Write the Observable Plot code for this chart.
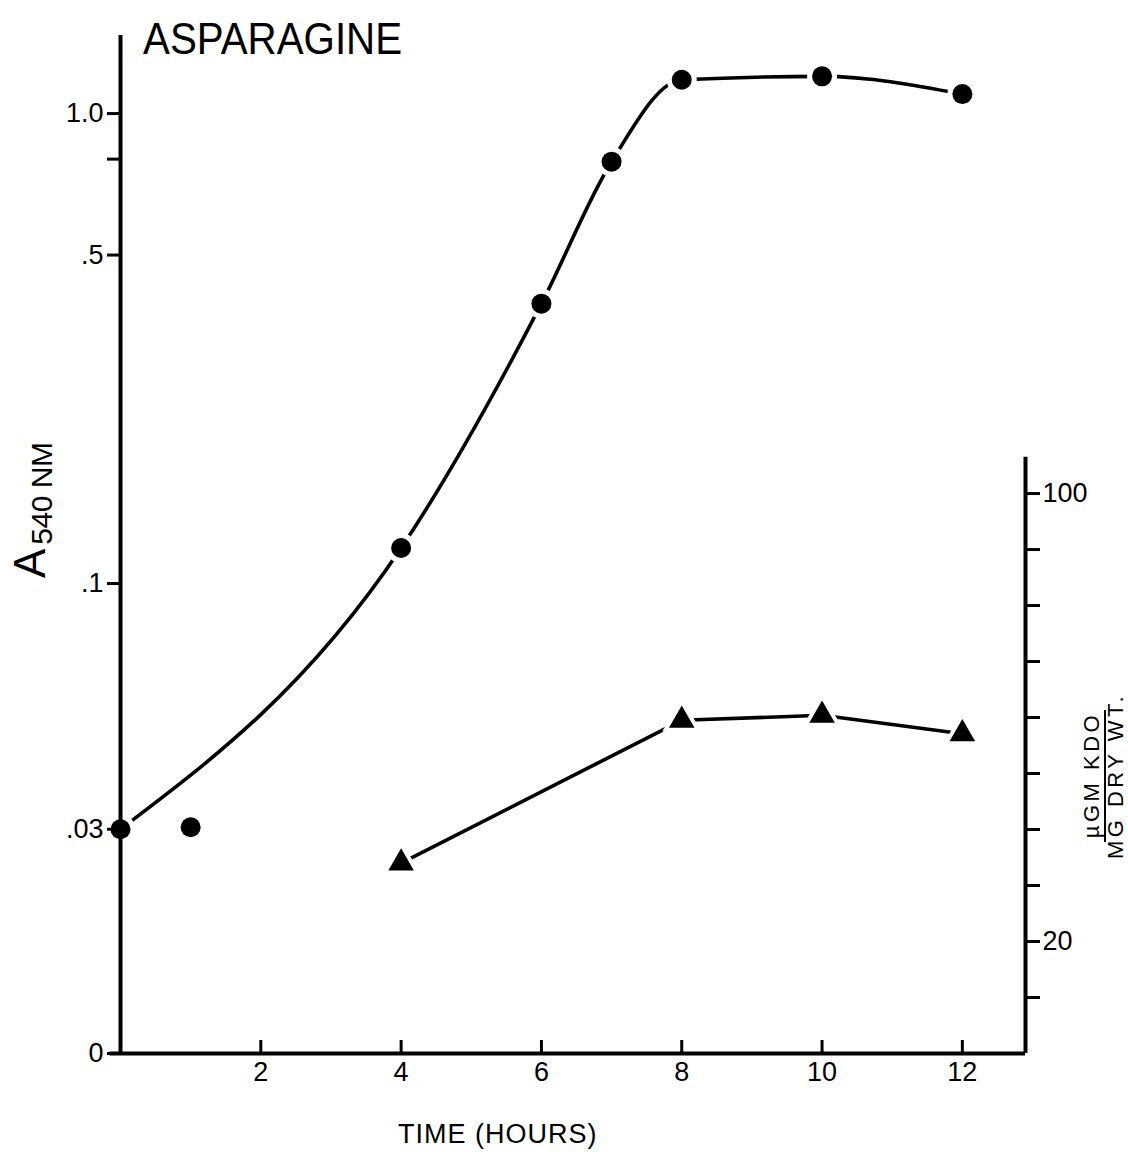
<!DOCTYPE html>
<html>
<head>
<meta charset="utf-8">
<script src="https://cdn.jsdelivr.net/npm/d3@7"></script>
<script src="https://cdn.jsdelivr.net/npm/@observablehq/plot@0.6"></script>
<style>
  html, body { margin: 0; padding: 0; background: #fff; }
  #wrap { position: relative; width: 1128px; height: 1152px; font-family: "Liberation Sans", Arial, sans-serif; color: #000; overflow: hidden; }
  #chart { position: absolute; left: 0; top: 0; }
  #chart svg text { font-size: 27px !important; font-family: "Liberation Sans", Arial, sans-serif !important; }
  .lbl { position: absolute; white-space: nowrap; line-height: 1; }
  #title { left: 143px; top: 17px; font-size: 44px; transform-origin: 0 0; transform: scaleX(0.916); }
  #ylab { left: 8px; top: 578px; font-size: 44px; transform-origin: 0 0; transform: rotate(-90deg); }
  #ylab span { font-size: 30px; position: relative; top: 7px; margin-left: 4px; letter-spacing: -0.5px; }
  #xlab { left: 398px; top: 1121px; font-size: 27px; letter-spacing: 1px; }
  #rlab { left: 1082px; top: 866px; font-size: 22px; line-height: 0.95; transform-origin: 0 0; transform: rotate(-90deg); width: 180px; text-align: center; letter-spacing: 3.5px; }
  #rlab .num { display: inline-block; border-bottom: 2.5px solid #000; padding: 0 2px 1px 4px; }
</style>
</head>
<body>
<div id="wrap">
  <div id="chart"></div>
  <div id="title" class="lbl">ASPARAGINE</div>
  <div id="ylab" class="lbl">A<span>540 NM</span></div>
  <div id="xlab" class="lbl">TIME (HOURS)</div>
  <div id="rlab" class="lbl"><div class="num">µGM KDO</div><div>MG DRY WT.</div></div>
</div>
<script>
// ---- data ----
const hours       = [0, 1, 4, 6, 7, 8, 10, 12];
const absorbance  = [0.030, 0.0303, 0.119, 0.394, 0.79, 1.18, 1.20, 1.10];
const onCurve     = [true, false, true, true, true, true, true, true];

const kdoHours    = [4, 8, 10, 12];
const kdoValues   = [34.0, 59.5, 60.4, 57.1];

const xTicks      = [2, 4, 6, 8, 10, 12];
const yTicks      = [0.01, 0.03, 0.1, 0.5, 0.8, 1.0];
const yTickLabels = ["0", ".03", ".1", ".5", "", "1.0"];
const kdoTicks      = [10, 20, 30, 40, 50, 60, 70, 80, 90, 100];
const kdoTickLabels = ["", "20", "", "", "", "", "", "", "", "100"];

// ---- scales ----
const X_MAX = 12.9;
const Y_MIN = 0.01, Y_MAX = 1.466;     // left (log) axis domain
const KDO_AT_TOP = 181.8;              // right (linear) axis: 0 at bottom, this value at frame top
const KDO_AXIS_TOP = 106.5;
const kdoToY = v => Y_MIN * Math.pow(Y_MAX / Y_MIN, v / KDO_AT_TOP);

const absData = hours.map((t, i) => ({t, a: absorbance[i], line: onCurve[i]}));
const curveData = absData.filter(d => d.line);
const kdoData = kdoHours.map((t, i) => ({t, v: kdoValues[i], y: kdoToY(kdoValues[i])}));

const yLabelMap = new Map(yTicks.map((d, i) => [d, yTickLabels[i]]));
const kdoTickY = kdoTicks.map(kdoToY);
const kdoLabelMap = new Map(kdoTickY.map((d, i) => [d, kdoTickLabels[i]]));

const FONT = "Liberation Sans, Arial, sans-serif";
const frameH = 1152 - 35 - 99;

const plot = Plot.plot({
  width: 1128,
  height: 1152,
  marginLeft: 120,
  marginRight: 103,
  marginTop: 35,
  marginBottom: 99,
  x: {domain: [0, X_MAX]},
  y: {type: "log", domain: [Y_MIN, Y_MAX]},
  style: {fontFamily: FONT, fontSize: "27px", color: "#000", background: "#fff", overflow: "visible"},
  marks: [
    Plot.line(curveData, {x: "t", y: "a", curve: "monotone-x", stroke: "#000", strokeWidth: 3.6}),
    Plot.line(kdoData, {x: "t", y: "y", curve: "linear", stroke: "#000", strokeWidth: 3.6}),
    Plot.dot(absData, {x: "t", y: "a", r: 15, fill: "#fff", stroke: "none"}),
    Plot.dot(kdoData, {x: "t", y: "y", symbol: "triangle", r: 14.5, fill: "#fff", stroke: "none"}),
    Plot.dot(absData, {x: "t", y: "a", r: 10, fill: "#000", stroke: "none"}),
    Plot.dot(kdoData, {x: "t", y: "y", symbol: "triangle", r: 9.5, fill: "#000", stroke: "none"}),
    // axis lines
    Plot.ruleX([0], {y1: () => Y_MIN, y2: () => Y_MAX, stroke: "#000", strokeWidth: 4}),
    Plot.ruleY([Y_MIN], {x1: () => -0.15, x2: () => X_MAX, stroke: "#000", strokeWidth: 4}),
    Plot.ruleX([X_MAX], {y1: () => Y_MIN, y2: () => kdoToY(KDO_AXIS_TOP), stroke: "#000", strokeWidth: 4}),
    // left axis
    Plot.axisY({ticks: yTicks, anchor: "left", tickSize: 13, tickPadding: 4, strokeWidth: 3,
      tickFormat: d => yLabelMap.get(d) ?? "", label: null, fontSize: 27, fontFamily: FONT}),
    // bottom axis (ticks point up into the frame)
    Plot.axisX({ticks: xTicks, anchor: "bottom", tickSize: 0, tickPadding: 8,
      tickFormat: d => String(d), label: null, fontSize: 27, fontFamily: FONT}),
    Plot.tickX(xTicks, {x: d => d, insetTop: frameH - 13, stroke: "#000", strokeWidth: 3}),
    // right axis (KDO)
    Plot.axisY({ticks: kdoTickY, anchor: "right", tickSize: 14, tickPadding: 3, strokeWidth: 3,
      tickFormat: d => kdoLabelMap.get(d) ?? "", label: null, fontSize: 27, fontFamily: FONT})
  ]
});
document.getElementById("chart").appendChild(plot);
</script>
</body>
</html>
